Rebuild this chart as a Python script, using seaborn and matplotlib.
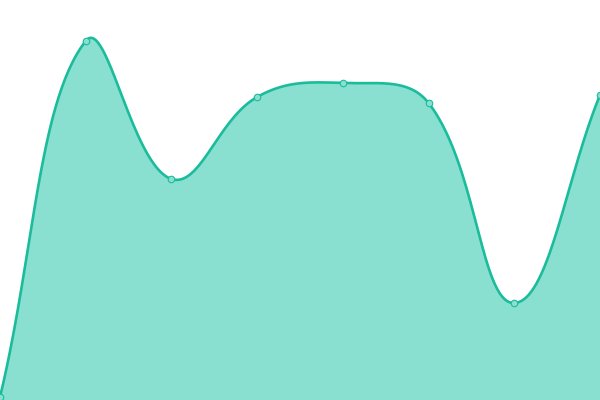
import numpy as np
import pandas as pd
import matplotlib
matplotlib.use("Agg")
import matplotlib.pyplot as plt
import seaborn as sns

# values (0..400 scale)
points = [0, 1, 2, 3, 4, 5, 6, 7]
values = [3, 359, 221, 303, 317, 297, 97, 305]

line_color = "#1abc9c"
fill_color = "#8ae0d0"
tension = 0.4


def spline_curve(xs, ys, steps=60):
    # bezier spline with distance weighted control points, worked in pixel space
    px = np.asarray(xs, float) * 600 / 7
    py = np.asarray(ys, float)
    n = len(px)
    cp_prev, cp_next = [], []
    for i in range(n):
        a = (px[max(i - 1, 0)], py[max(i - 1, 0)])
        b = (px[i], py[i])
        c = (px[min(i + 1, n - 1)], py[min(i + 1, n - 1)])
        d01 = np.hypot(b[0] - a[0], b[1] - a[1])
        d12 = np.hypot(c[0] - b[0], c[1] - b[1])
        tot = d01 + d12
        fa = tension * d01 / tot if tot else 0
        fb = tension * d12 / tot if tot else 0
        cp_prev.append((b[0] - fa * (c[0] - a[0]), b[1] - fa * (c[1] - a[1])))
        cp_next.append((b[0] + fb * (c[0] - a[0]), b[1] + fb * (c[1] - a[1])))
    out_x, out_y = [], []
    t = np.linspace(0, 1, steps, endpoint=False)
    for i in range(n - 1):
        p0 = (px[i], py[i])
        p1 = cp_next[i]
        p2 = cp_prev[i + 1]
        p3 = (px[i + 1], py[i + 1])
        for k, out in ((0, out_x), (1, out_y)):
            out.extend((1 - t)**3 * p0[k] + 3 * (1 - t)**2 * t * p1[k]
                       + 3 * (1 - t) * t**2 * p2[k] + t**3 * p3[k])
    out_x.append(px[-1])
    out_y.append(py[-1])
    return np.array(out_x) * 7 / 600, np.array(out_y)


df = pd.DataFrame({"x": points, "y": values})
sx, sy = spline_curve(df["x"].values, df["y"].values)
curve = pd.DataFrame({"x": sx, "y": sy})

sns.set_theme(style="white")
fig = plt.figure(figsize=(6, 4), dpi=100)
ax = fig.add_axes([0, 0, 1, 1])

ax.fill_between(curve["x"], curve["y"], 0, color=fill_color, linewidth=0)
sns.lineplot(data=curve, x="x", y="y", ax=ax, color=line_color, linewidth=1.9,
             sort=False, estimator=None)
sns.scatterplot(data=df, x="x", y="y", ax=ax, s=22, color=fill_color,
                edgecolor=line_color, linewidth=0.8, zorder=5, clip_on=False)

ax.set_xlim(0, 7)
ax.set_ylim(0, 400)
ax.axis("off")

fig.savefig("out.png", dpi=100)
